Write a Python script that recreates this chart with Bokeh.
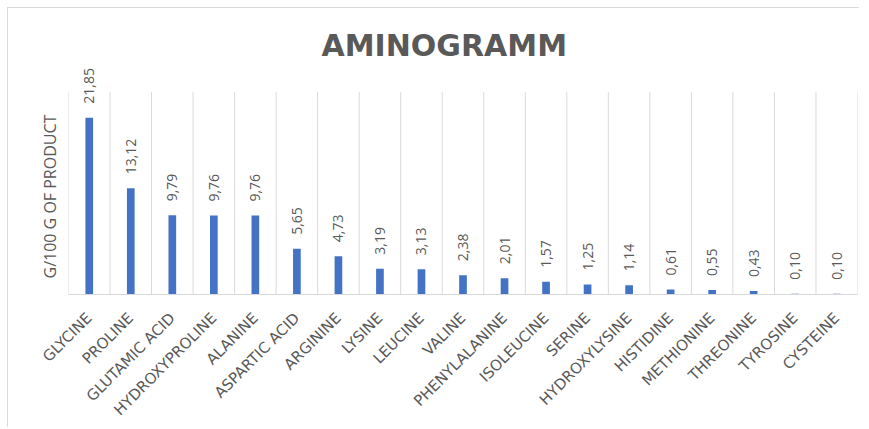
import math
from bokeh.plotting import figure
from bokeh.models import Range1d, FixedTicker, ColumnDataSource, LabelSet, Title
from bokeh.core.properties import value
from bokeh.embed import file_html
from bokeh.resources import INLINE

amino_acids = ["GLYCINE", "PROLINE", "GLUTAMIC ACID", "HYDROXYPROLINE", "ALANINE",
               "ASPARTIC ACID", "ARGININE", "LYSINE", "LEUCINE", "VALINE",
               "PHENYLALANINE", "ISOLEUCINE", "SERINE", "HYDROXYLYSINE", "HISTIDINE",
               "METHIONINE", "THREONINE", "TYROSINE", "CYSTEINE"]
values = [21.85, 13.12, 9.79, 9.76, 9.76, 5.65, 4.73, 3.19, 3.13, 2.38,
          2.01, 1.57, 1.25, 1.14, 0.61, 0.55, 0.43, 0.10, 0.10]
value_labels = ["21,85", "13,12", "9,79", "9,76", "9,76", "5,65", "4,73", "3,19", "3,13", "2,38",
                "2,01", "1,57", "1,25", "1,14", "0,61", "0,55", "0,43", "0,10", "0,10"]
title_text = "AMINOGRAMM"
y_axis_title = "G/100 G OF PRODUCT"
y_axis_max = 25

positions = list(range(len(amino_acids)))
src = ColumnDataSource(dict(x=positions, top=values, lab=value_labels))

# category boundaries for the vertical grid lines
bounds = [i - 0.5 for i in range(len(amino_acids) + 1)]
grid_src = ColumnDataSource(dict(x=bounds, y0=[0] * len(bounds), y1=[y_axis_max] * len(bounds)))

GRAY = "#595959"
LIGHT = "#d9d9d9"

p = figure(width=852, height=420, output_backend="svg", toolbar_location=None,
           x_range=Range1d(-0.5, len(amino_acids) - 0.5), y_range=Range1d(0, 28.67),
           min_border_left=60, min_border_right=3, min_border_top=54, min_border_bottom=134)
p.styles = {"margin-left": "7px", "margin-top": "7px",
            "border-left": "1px solid #d9d9d9", "border-top": "1px solid #d9d9d9"}
p.outline_line_color = None
p.background_fill_color = "white"
p.border_fill_color = "white"

p.title.text = title_text
p.title.align = "left"
p.title.offset = 253
p.title.standoff = 0
p.title.text_font = "DejaVu Sans"
p.title.text_font_style = "bold"
p.title.text_font_size = "30px"
p.title.text_color = GRAY

# y axis title, drawn as a side title so it can be placed like the original
ytitle = Title(text=y_axis_title, align="left", offset=16, standoff=16,
               text_font="Open Sans", text_font_style="normal",
               text_font_size="16px", text_color=GRAY)
p.add_layout(ytitle, "left")

p.segment(x0="x", x1="x", y0="y0", y1="y1", source=grid_src, line_color=LIGHT, line_width=1)

p.vbar(x="x", top="top", width=0.185, bottom=0, source=src,
       fill_color="#4472C4", line_color=None)

labels = LabelSet(x="x", y="top", text="lab", source=src, angle=math.pi / 2,
                  text_align="left", text_baseline="middle", y_offset=14,
                  text_font=value("Open Sans"), text_font_size=value("14px"),
                  text_color=GRAY)
p.add_layout(labels)

p.xgrid.grid_line_color = None
p.ygrid.grid_line_color = None

xa = p.xaxis[0]
xa.ticker = FixedTicker(ticks=positions)
xa.major_label_overrides = {i: name for i, name in enumerate(amino_acids)}
xa.major_label_orientation = math.pi / 4
xa.major_label_text_font = "DejaVu Sans"
xa.major_label_text_font_size = "15px"
xa.major_label_text_color = GRAY
xa.major_label_standoff = 15
xa.major_tick_line_color = None
xa.minor_tick_line_color = None
xa.axis_line_color = LIGHT

p.yaxis.visible = False

open("out.html", "w").write(file_html(p, INLINE))
